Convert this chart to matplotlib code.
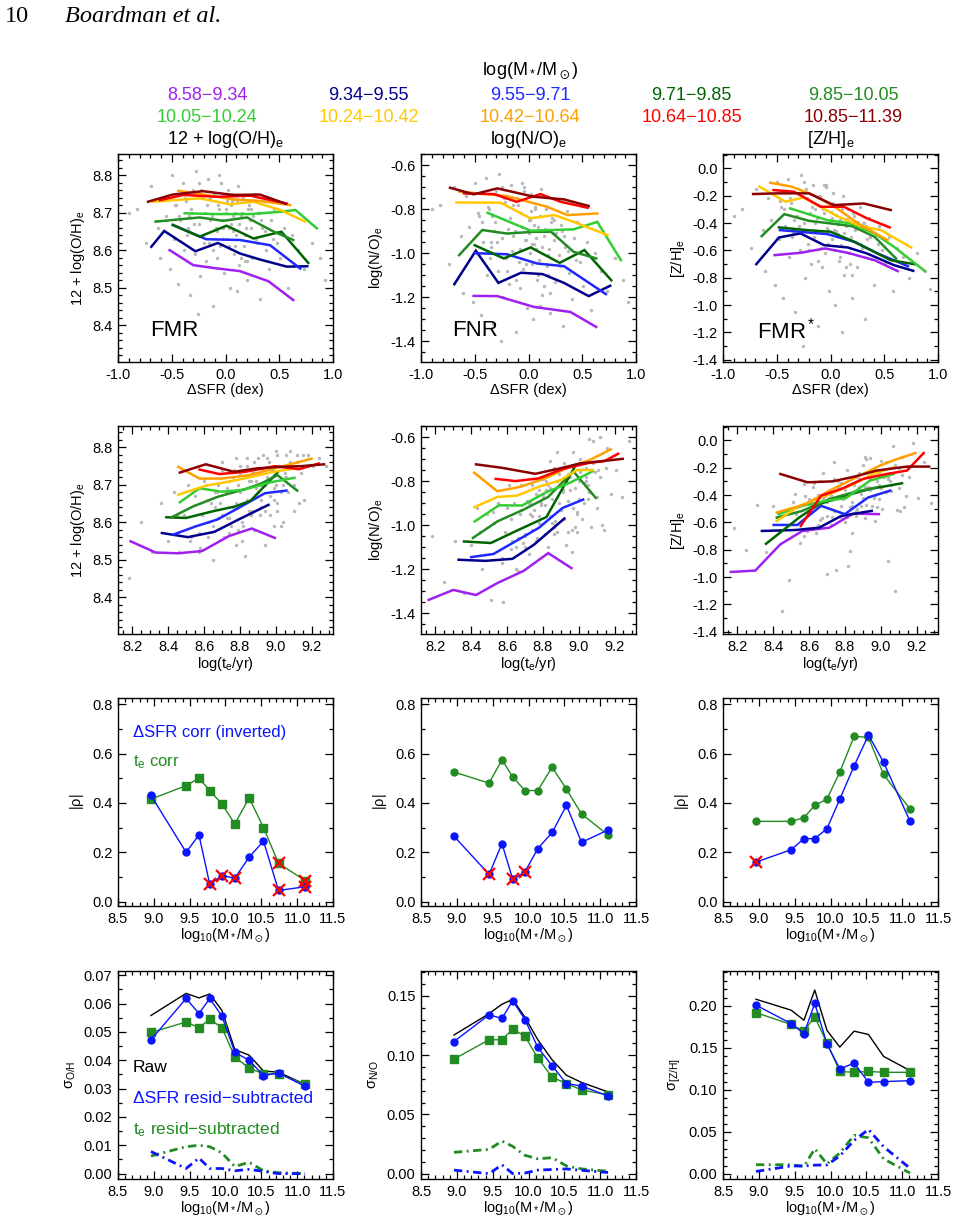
import matplotlib
matplotlib.use("Agg")
import matplotlib.pyplot as plt
from matplotlib.ticker import MultipleLocator, FormatStrFormatter

plt.rcParams["font.family"] = ["Liberation Sans", "DejaVu Sans"]
plt.rcParams["mathtext.fontset"] = "custom"
plt.rcParams["mathtext.rm"] = "Liberation Sans"
plt.rcParams["mathtext.it"] = "Liberation Sans:italic"
plt.rcParams["mathtext.default"] = "regular"

# ---- mass bins -------------------------------------------------------------
BIN_LABELS = ["8.58−9.34", "9.34−9.55", "9.55−9.71", "9.71−9.85", "9.85−10.05",
              "10.05−10.24", "10.24−10.42", "10.42−10.64", "10.64−10.85", "10.85−11.39"]
BIN_COLORS = ["#A020F0", "#00008B", "#1E28FF", "#006400", "#228B22",
              "#32CD32", "#FFC800", "#FFA000", "#FF0000", "#8B0000"]

# ---- grey galaxy cloud (estimated) -----------------------------------------
CLOUD_DSFR = [-0.82, -0.74, -0.69, -0.63, -0.61, -0.58, -0.55, -0.52, -0.50, -0.48,
              -0.46, -0.44, -0.42, -0.40, -0.39, -0.37, -0.35, -0.33, -0.31, -0.30,
              -0.28, -0.27, -0.25, -0.24, -0.22, -0.21, -0.19, -0.18, -0.16, -0.15,
              -0.13, -0.12, -0.11, -0.09, -0.08, -0.07, -0.05, -0.04, -0.03, -0.01,
              0.00, 0.01, 0.02, 0.04, 0.05, 0.06, 0.08, 0.09, 0.10, 0.12,
              0.13, 0.14, 0.16, 0.17, 0.19, 0.20, 0.22, 0.23, 0.25, 0.27,
              0.28, 0.30, 0.32, 0.34, 0.36, 0.38, 0.40, 0.42, 0.45, 0.48,
              0.51, 0.54, 0.58, 0.62, 0.67, 0.73, 0.80, 0.88, -0.90, 0.93,
              -0.26, -0.06, 0.07, 0.18, -0.34, 0.03, -0.14, 0.11, -0.02, 0.24,
              -0.43, -0.38, -0.36, -0.32, -0.29, -0.23, -0.20, -0.17, -0.14, -0.10,
              -0.08, -0.06, -0.04, -0.02, 0.00, 0.02, 0.03, 0.05, 0.07, 0.09,
              0.11, 0.13, 0.15, 0.18, 0.21, 0.24, 0.26, 0.29, 0.33, 0.37,
              -0.47, -0.25, -0.12, 0.01, 0.14, 0.31, 0.44, -0.35, 0.06, 0.20]
CLOUD_OH_1 = [8.71, 8.62, 8.77, 8.66, 8.58, 8.74, 8.69, 8.55, 8.80, 8.63,
              8.72, 8.51, 8.68, 8.78, 8.60, 8.73, 8.65, 8.48, 8.70, 8.76,
              8.59, 8.81, 8.67, 8.53, 8.74, 8.64, 8.70, 8.57, 8.79, 8.62,
              8.69, 8.45, 8.75, 8.66, 8.58, 8.72, 8.61, 8.78, 8.68, 8.54,
              8.71, 8.63, 8.76, 8.50, 8.67, 8.73, 8.59, 8.70, 8.64, 8.77,
              8.56, 8.69, 8.74, 8.61, 8.66, 8.52, 8.72, 8.68, 8.58, 8.75,
              8.63, 8.70, 8.47, 8.66, 8.73, 8.60, 8.55, 8.68, 8.71, 8.62,
              8.58, 8.66, 8.50, 8.64, 8.60, 8.55, 8.62, 8.58, 8.70, 8.52,
              8.43, 8.80, 8.65, 8.57, 8.69, 8.61, 8.74, 8.49, 8.66, 8.71,
              8.69, 8.74, 8.64, 8.71, 8.67, 8.76, 8.62, 8.72, 8.68, 8.75,
              8.65, 8.71, 8.78, 8.63, 8.70, 8.74, 8.66, 8.72, 8.69, 8.61,
              8.73, 8.67, 8.70, 8.64, 8.71, 8.66, 8.69, 8.62, 8.68, 8.65,
              8.72, 8.78, 8.60, 8.73, 8.58, 8.70, 8.63, 8.66, 8.75, 8.57]
CLOUD_NO_1 = [-0.78, -1.05, -0.70, -0.92, -1.18, -0.74, -0.88, -1.22, -0.68, -1.00,
              -0.83, -1.28, -0.95, -0.66, -1.10, -0.80, -0.97, -1.32, -0.86, -0.72,
              -1.08, -0.64, -0.93, -1.20, -0.77, -1.02, -0.89, -1.14, -0.69, -0.99,
              -0.90, -1.36, -0.75, -1.04, -1.16, -0.82, -1.07, -0.70, -0.94, -1.25,
              -0.85, -1.00, -0.73, -1.30, -0.96, -0.79, -1.12, -0.88, -1.03, -0.71,
              -1.19, -0.92, -0.80, -1.06, -0.98, -1.27, -0.84, -0.91, -1.13, -0.76,
              -1.01, -0.87, -1.33, -0.97, -0.81, -1.09, -1.21, -0.93, -0.86, -1.04,
              -1.15, -0.95, -1.26, -1.00, -1.08, -1.17, -1.02, -1.12, -0.80, -1.22,
              -1.40, -0.68, -0.98, -1.10, -0.83, -1.05, -0.78, -1.24, -0.94, -0.85,
              -0.86, -0.79, -1.02, -0.90, -0.95, -0.75, -1.08, -0.84, -0.92, -0.78,
              -0.98, -0.88, -0.72, -1.05, -0.91, -0.81, -0.96, -0.87, -0.93, -1.10,
              -0.83, -0.97, -0.89, -1.01, -0.86, -0.94, -0.91, -1.06, -0.92, -0.99,
              -0.82, -0.70, -1.12, -0.85, -1.15, -0.90, -1.03, -0.95, -0.80, -1.18]
CLOUD_ZH_1 = [-0.30, -0.58, -0.15, -0.45, -0.75, -0.22, -0.38, -0.85, -0.10, -0.52,
              -0.28, -0.95, -0.42, -0.08, -0.65, -0.25, -0.48, -1.05, -0.35, -0.18,
              -0.60, -0.05, -0.40, -0.80, -0.22, -0.55, -0.33, -0.70, -0.12, -0.50,
              -0.36, -1.15, -0.20, -0.58, -0.72, -0.30, -0.62, -0.14, -0.44, -0.90,
              -0.32, -0.52, -0.18, -1.00, -0.46, -0.27, -0.68, -0.38, -0.56, -0.20,
              -0.78, -0.42, -0.30, -0.62, -0.50, -0.95, -0.35, -0.45, -0.72, -0.28,
              -0.55, -0.40, -1.10, -0.52, -0.36, -0.66, -0.85, -0.48, -0.42, -0.60,
              -0.70, -0.50, -0.90, -0.58, -0.65, -0.80, -0.62, -0.75, -0.35, -0.88,
              -1.30, -0.12, -0.48, -0.70, -0.38, -0.60, -0.30, -1.20, -0.45, -0.40,
              -0.30, -0.22, -0.50, -0.35, -0.42, -0.15, -0.60, -0.28, -0.40, -0.20,
              -0.46, -0.33, -0.12, -0.55, -0.38, -0.25, -0.45, -0.34, -0.41, -0.65,
              -0.30, -0.47, -0.37, -0.52, -0.33, -0.44, -0.39, -0.58, -0.42, -0.50,
              -0.24, -0.10, -0.68, -0.36, -0.72, -0.40, -0.55, -0.46, -0.27, -0.78]

CLOUD_TE = [8.18, 8.25, 8.31, 8.36, 8.40, 8.43, 8.46, 8.49, 8.51, 8.53,
            8.55, 8.57, 8.59, 8.61, 8.62, 8.64, 8.65, 8.67, 8.68, 8.70,
            8.71, 8.72, 8.74, 8.75, 8.76, 8.78, 8.79, 8.80, 8.81, 8.83,
            8.84, 8.85, 8.86, 8.88, 8.89, 8.90, 8.91, 8.93, 8.94, 8.95,
            8.96, 8.97, 8.99, 9.00, 9.01, 9.02, 9.04, 9.05, 9.06, 9.07,
            9.09, 9.10, 9.12, 9.14, 9.16, 9.18, 9.21, 9.24, 9.28, 8.58,
            8.66, 8.73, 8.77, 8.82, 8.87, 8.92, 8.98, 9.03, 9.08, 8.69,
            8.74, 8.80, 8.86, 8.91, 8.96, 9.01, 9.11, 8.63, 8.84, 8.99,
            8.45, 8.52, 8.70, 8.78, 8.88, 8.94, 9.04, 9.13, 8.60, 8.83,
            8.62, 8.65, 8.68, 8.70, 8.72, 8.74, 8.76, 8.78, 8.79, 8.81,
            8.82, 8.84, 8.85, 8.87, 8.88, 8.90, 8.91, 8.92, 8.94, 8.95,
            8.97, 8.98, 9.00, 9.01, 9.03, 9.04, 9.06, 9.08, 9.10, 9.12,
            8.57, 8.66, 8.73, 8.80, 8.86, 8.93, 8.99, 9.05, 9.15, 8.89]
CLOUD_OH_2 = [8.45, 8.60, 8.52, 8.65, 8.55, 8.68, 8.52, 8.62, 8.70, 8.56,
              8.67, 8.52, 8.62, 8.70, 8.56, 8.65, 8.50, 8.68, 8.61, 8.74,
              8.56, 8.68, 8.71, 8.59, 8.64, 8.77, 8.58, 8.68, 8.55, 8.72,
              8.75, 8.63, 8.71, 8.58, 8.69, 8.77, 8.62, 8.74, 8.54, 8.72,
              8.76, 8.62, 8.69, 8.79, 8.65, 8.75, 8.60, 8.72, 8.78, 8.68,
              8.75, 8.63, 8.78, 8.73, 8.66, 8.78, 8.75, 8.77, 8.75, 8.53,
              8.68, 8.61, 8.74, 8.59, 8.73, 8.66, 8.72, 8.59, 8.76, 8.65,
              8.57, 8.75, 8.62, 8.70, 8.76, 8.63, 8.75, 8.60, 8.77, 8.59,
              8.62, 8.55, 8.76, 8.54, 8.73, 8.63, 8.70, 8.65, 8.71, 8.51,
              8.66, 8.59, 8.70, 8.62, 8.68, 8.61, 8.72, 8.65, 8.70, 8.60,
              8.74, 8.66, 8.71, 8.63, 8.76, 8.68, 8.73, 8.64, 8.70, 8.77,
              8.67, 8.74, 8.70, 8.78, 8.68, 8.75, 8.72, 8.79, 8.70, 8.76,
              8.57, 8.64, 8.69, 8.73, 8.62, 8.78, 8.66, 8.73, 8.78, 8.71]
CLOUD_NO_2 = [-1.05, -1.26, -1.07, -1.31, -1.09, -0.92, -1.20, -0.95, -1.34, -0.99,
              -0.90, -1.17, -1.03, -0.82, -1.11, -0.90, -1.20, -0.95, -0.82, -1.04,
              -0.89, -1.13, -0.82, -0.93, -1.07, -0.84, -0.90, -0.87, -0.91, -1.10,
              -0.83, -0.99, -0.74, -1.03, -0.77, -0.93, -0.82, -1.09, -0.77, -0.84,
              -1.02, -0.67, -0.95, -0.80, -0.70, -0.97, -0.74, -0.88, -0.61, -1.01,
              -0.76, -0.92, -0.60, -1.02, -0.65, -0.86, -0.75, -0.87, -0.62, -1.35,
              -1.21, -0.90, -1.06, -0.80, -0.98, -0.72, -1.01, -0.81, -0.62, -1.08,
              -0.96, -0.79, -1.04, -0.84, -1.12, -0.76, -0.75, -1.07, -0.71, -1.03,
              -1.03, -0.94, -1.10, -0.96, -0.67, -1.03, -0.78, -1.00, -0.92, -0.82,
              -0.97, -1.10, -0.93, -1.05, -0.90, -1.02, -0.86, -0.99, -0.91, -1.04,
              -0.84, -0.96, -0.88, -1.00, -0.80, -0.93, -0.85, -0.97, -0.89, -0.78,
              -0.92, -0.83, -0.88, -0.75, -0.90, -0.80, -0.85, -0.72, -0.87, -0.78,
              -1.15, -1.06, -0.95, -0.86, -1.01, -0.79, -0.94, -0.82, -0.74, -0.90]
CLOUD_ZH_2 = [-0.64, -0.80, -0.47, -0.82, -0.48, -0.66, -0.52, -1.02, -0.45, -0.54,
              -0.75, -0.32, -0.66, -0.47, -0.34, -0.68, -0.40, -0.57, -0.24, -0.98,
              -0.42, -0.62, -0.16, -0.95, -0.30, -0.56, -0.43, -0.60, -0.22, -0.81,
              -0.68, -0.33, -0.55, -0.24, -0.48, -0.18, -0.57, -0.34, -0.13, -0.48,
              -0.22, -0.59, -0.33, -0.15, -0.50, -0.27, -0.88, -0.20, -0.37, -0.04,
              -0.51, -0.20, -0.12, -0.41, -0.27, -0.02, -0.42, -0.16, -0.46, -0.41,
              -0.30, -0.56, -0.34, -0.92, -0.37, -0.14, -0.49, -0.16, -1.10, -0.41,
              -0.28, -0.55, -0.27, -0.12, -0.42, -0.22, -0.52, -0.31, -0.48, -0.23,
              -1.25, -0.39, -0.45, -0.31, -0.34, -0.28, -0.28, -0.49, -0.43, -0.49,
              -0.48, -0.62, -0.42, -0.55, -0.40, -0.52, -0.35, -0.48, -0.40, -0.56,
              -0.33, -0.45, -0.37, -0.50, -0.28, -0.42, -0.34, -0.47, -0.36, -0.24,
              -0.40, -0.30, -0.35, -0.22, -0.38, -0.27, -0.33, -0.18, -0.35, -0.25,
              -0.70, -0.58, -0.44, -0.36, -0.52, -0.26, -0.43, -0.30, -0.20, -0.39]

# ---- running medians per mass bin, row 1 (vs ΔSFR) -------------------------
FMR_X = [[-0.52, -0.30, -0.10, 0.135, 0.40, 0.63],
         [-0.69, -0.57, -0.28, -0.07, 0.135, 0.32, 0.57, 0.76],
         [-0.49, -0.18, 0.135, 0.415, 0.695],
         [-0.49, -0.24, 0.01, 0.26, 0.52, 0.77],
         [-0.65, -0.24, -0.02, 0.20, 0.45, 0.63],
         [-0.38, -0.08, 0.23, 0.51, 0.65, 0.85],
         [-0.67, -0.24, 0.04, 0.26, 0.51, 0.74],
         [-0.44, -0.18, 0.07, 0.32, 0.60],
         [-0.61, -0.39, -0.08, 0.23, 0.57],
         [-0.72, -0.49, -0.21, 0.07, 0.32, 0.555]]
FMR_Y = [[8.600, 8.560, 8.552, 8.544, 8.517, 8.467],
         [8.609, 8.651, 8.597, 8.619, 8.591, 8.575, 8.556, 8.557],
         [8.667, 8.629, 8.627, 8.613, 8.551],
         [8.667, 8.636, 8.665, 8.631, 8.649, 8.566],
         [8.676, 8.687, 8.678, 8.687, 8.649, 8.627],
         [8.698, 8.696, 8.696, 8.702, 8.707, 8.658],
         [8.729, 8.738, 8.722, 8.729, 8.707, 8.676],
         [8.758, 8.747, 8.735, 8.731, 8.720],
         [8.733, 8.747, 8.742, 8.745, 8.724],
         [8.729, 8.748, 8.757, 8.747, 8.748, 8.724]]

FNR_X = [[-0.51, -0.29, 0.05, 0.39, 0.63],
         [-0.69, -0.49, -0.28, -0.07, 0.13, 0.33, 0.56, 0.76],
         [-0.50, -0.20, 0.08, 0.33, 0.72],
         [-0.50, -0.23, 0.02, 0.29, 0.52, 0.77],
         [-0.645, -0.43, -0.20, 0.05, 0.21, 0.42, 0.63],
         [-0.38, 0.02, 0.42, 0.64, 0.86],
         [-0.67, -0.26, 0.02, 0.24, 0.42, 0.735],
         [-0.64, -0.20, 0.17, 0.36, 0.64],
         [-0.60, -0.32, -0.11, 0.11, 0.30, 0.55],
         [-0.73, -0.51, -0.29, 0.05, 0.33, 0.56]]
FNR_Y = [[-1.194, -1.195, -1.244, -1.267, -1.335],
         [-1.141, -0.989, -1.135, -1.089, -1.095, -1.135, -1.195, -1.148],
         [-1.000, -1.005, -1.047, -1.059, -1.186],
         [-0.964, -1.024, -0.974, -1.044, -0.986, -1.123],
         [-1.009, -0.895, -0.911, -0.903, -0.903, -0.994, -1.024],
         [-0.817, -0.898, -0.892, -0.858, -1.032],
         [-0.770, -0.771, -0.842, -0.827, -0.858, -0.918],
         [-0.721, -0.741, -0.789, -0.827, -0.820],
         [-0.729, -0.732, -0.767, -0.732, -0.767, -0.794],
         [-0.703, -0.733, -0.706, -0.744, -0.756, -0.786]]

FMRZ_X = [[-0.52, -0.28, -0.05, 0.16, 0.41, 0.625],
          [-0.69, -0.48, -0.28, -0.06, 0.16, 0.34, 0.59, 0.77],
          [-0.47, -0.03, 0.22, 0.44, 0.72],
          [-0.48, -0.22, 0.00, 0.22, 0.56, 0.78],
          [-0.64, -0.43, -0.20, 0.00, 0.20, 0.41, 0.61],
          [-0.375, -0.03, 0.19, 0.41, 0.59, 0.875],
          [-0.66, -0.42, -0.25, 0.06, 0.28, 0.47, 0.75],
          [-0.56, -0.36, -0.16, 0.06, 0.28, 0.53],
          [-0.53, -0.34, -0.09, 0.125, 0.34, 0.55],
          [-0.72, -0.50, -0.20, 0.03, 0.31, 0.56]]
FMRZ_Y = [[-0.635, -0.618, -0.586, -0.618, -0.672, -0.752],
          [-0.701, -0.506, -0.476, -0.562, -0.579, -0.623, -0.708, -0.750],
          [-0.452, -0.481, -0.537, -0.623, -0.716],
          [-0.432, -0.452, -0.464, -0.537, -0.672, -0.701],
          [-0.496, -0.335, -0.384, -0.403, -0.423, -0.501, -0.660],
          [-0.293, -0.379, -0.403, -0.476, -0.574, -0.750],
          [-0.134, -0.244, -0.213, -0.349, -0.423, -0.452, -0.579],
          [-0.105, -0.134, -0.195, -0.293, -0.415, -0.525],
          [-0.159, -0.171, -0.281, -0.281, -0.366, -0.432],
          [-0.188, -0.183, -0.183, -0.269, -0.257, -0.305]]

# ---- running medians per mass bin, row 2 (vs log t_e) ----------------------
TOH_X = [[8.19, 8.33, 8.456, 8.59, 8.74, 8.867, 8.995],
         [8.365, 8.51, 8.657, 8.81, 8.96],
         [8.43, 8.556, 8.675, 8.79, 8.94, 9.06],
         [8.39, 8.50, 8.65, 8.776, 8.86, 9.01],
         [8.42, 8.54, 8.68, 8.83, 8.92, 9.01, 9.12],
         [8.465, 8.575, 8.70, 8.82, 8.97, 9.105],
         [8.456, 8.61, 8.74, 8.85, 8.99, 9.105],
         [8.456, 8.575, 8.70, 8.85, 8.995, 9.20],
         [8.575, 8.685, 8.83, 8.995, 9.13, 9.24],
         [8.465, 8.61, 8.767, 8.895, 9.01, 9.14, 9.27]]
TOH_Y = [[8.549, 8.519, 8.517, 8.523, 8.563, 8.583, 8.558],
         [8.571, 8.560, 8.574, 8.611, 8.646],
         [8.567, 8.589, 8.607, 8.637, 8.677, 8.684],
         [8.613, 8.611, 8.629, 8.642, 8.657, 8.732],
         [8.613, 8.642, 8.668, 8.688, 8.703, 8.725, 8.684],
         [8.653, 8.690, 8.681, 8.686, 8.706, 8.718],
         [8.673, 8.697, 8.708, 8.719, 8.734, 8.743],
         [8.747, 8.716, 8.716, 8.725, 8.743, 8.769],
         [8.740, 8.728, 8.734, 8.749, 8.741, 8.756],
         [8.732, 8.754, 8.734, 8.743, 8.747, 8.749, 8.754]]

TNO_X = [[8.163, 8.30, 8.427, 8.546, 8.694, 8.83, 8.96],
         [8.33, 8.48, 8.63, 8.75, 8.92],
         [8.40, 8.524, 8.64, 8.776, 8.91, 9.025],
         [8.36, 8.51, 8.647, 8.82, 8.975],
         [8.41, 8.546, 8.694, 8.83, 8.97, 9.095],
         [8.42, 8.555, 8.684, 8.82, 8.95, 9.08],
         [8.417, 8.546, 8.657, 8.786, 8.896, 8.99, 9.08],
         [8.417, 8.546, 8.675, 8.82, 8.95, 9.06, 9.18],
         [8.537, 8.648, 8.776, 8.915, 9.06, 9.145, 9.22],
         [8.427, 8.574, 8.758, 8.887, 9.007, 9.136, 9.246]]
TNO_Y = [[-1.339, -1.294, -1.317, -1.263, -1.207, -1.127, -1.195],
         [-1.157, -1.162, -1.153, -1.089, -0.970],
         [-1.145, -1.131, -1.077, -1.013, -0.922, -0.884],
         [-1.074, -1.081, -1.028, -0.963, -0.740],
         [-1.058, -0.983, -0.929, -0.872, -0.755, -0.876],
         [-0.983, -0.910, -0.911, -0.850, -0.808, -0.755],
         [-0.919, -0.872, -0.866, -0.823, -0.797, -0.750, -0.750],
         [-0.762, -0.846, -0.826, -0.785, -0.735, -0.705, -0.656],
         [-0.790, -0.800, -0.788, -0.744, -0.717, -0.709, -0.676],
         [-0.724, -0.740, -0.767, -0.744, -0.720, -0.709, -0.699]]

TZH_X = [[8.164, 8.30, 8.44, 8.563, 8.714, 8.846, 8.99],
         [8.337, 8.526, 8.657, 8.78, 8.95],
         [8.403, 8.535, 8.667, 8.80, 8.93, 9.053],
         [8.36, 8.545, 8.657, 8.80, 8.94, 9.119],
         [8.42, 8.563, 8.714, 8.846, 8.978],
         [8.43, 8.563, 8.695, 8.808, 8.94, 9.072],
         [8.42, 8.545, 8.695, 8.827, 8.96, 9.072],
         [8.42, 8.582, 8.714, 8.865, 8.997, 9.08, 9.194],
         [8.554, 8.667, 8.78, 8.902, 9.034, 9.147, 9.24],
         [8.44, 8.592, 8.733, 8.855, 8.978, 9.147, 9.27]]
TZH_Y = [[-0.963, -0.953, -0.761, -0.663, -0.639, -0.536, -0.540],
         [-0.663, -0.656, -0.639, -0.553, -0.516],
         [-0.619, -0.619, -0.479, -0.540, -0.418, -0.368],
         [-0.757, -0.565, -0.467, -0.405, -0.356, -0.314],
         [-0.565, -0.516, -0.430, -0.381, -0.344],
         [-0.540, -0.479, -0.442, -0.422, -0.295, -0.246],
         [-0.590, -0.479, -0.405, -0.332, -0.246, -0.197],
         [-0.528, -0.467, -0.368, -0.270, -0.184, -0.142, -0.093],
         [-0.626, -0.405, -0.356, -0.282, -0.246, -0.221, -0.093],
         [-0.246, -0.307, -0.300, -0.265, -0.221, -0.192, -0.192]]

# ---- correlation strengths vs stellar mass (row 3) -------------------------
MASS_X = [8.96, 9.45, 9.63, 9.78, 9.95, 10.13, 10.33, 10.53, 10.74, 11.11]
OH_RHO_SFR = [0.43, 0.20, 0.27, 0.07, 0.105, 0.095, 0.18, 0.245, 0.045, 0.06]
OH_RHO_TE = [0.415, 0.47, 0.50, 0.45, 0.395, 0.315, 0.42, 0.30, 0.155, 0.085]
OH_BAD_SFR = [3, 4, 5, 8, 9]
OH_BAD_TE = [8, 9]
NO_RHO_SFR = [0.265, 0.11, 0.235, 0.09, 0.12, 0.215, 0.28, 0.39, 0.24, 0.29]
NO_RHO_TE = [0.525, 0.48, 0.575, 0.505, 0.45, 0.45, 0.545, 0.455, 0.355, 0.27]
NO_BAD_SFR = [1, 3, 4]
NO_BAD_TE = []
ZH_RHO_SFR = [0.16, 0.21, 0.255, 0.255, 0.295, 0.415, 0.55, 0.675, 0.565, 0.325]
ZH_RHO_TE = [0.325, 0.325, 0.34, 0.39, 0.415, 0.525, 0.67, 0.665, 0.515, 0.375]
ZH_BAD_SFR = [0]
ZH_BAD_TE = []

# ---- scatter vs stellar mass (row 4) ---------------------------------------
OH_RAW = [0.0558, 0.0636, 0.0620, 0.0634, 0.0576, 0.0438, 0.0418, 0.0362, 0.0358, 0.0315]
OH_SFR_SUB = [0.0472, 0.0618, 0.0565, 0.0618, 0.0556, 0.0428, 0.0400, 0.0346, 0.0355, 0.0308]
OH_TE_SUB = [0.0498, 0.0535, 0.0515, 0.0545, 0.0515, 0.0412, 0.0372, 0.0352, 0.0352, 0.0315]
OH_SFR_DIFF = [0.0078, 0.0018, 0.0055, 0.0018, 0.0018, 0.0010, 0.0015, 0.0008, 0.0, 0.0]
OH_TE_DIFF = [0.0062, 0.0095, 0.0100, 0.0095, 0.0073, 0.0025, 0.0040, 0.0010, 0.0003, 0.0]
NO_RAW = [0.117, 0.135, 0.143, 0.147, 0.132, 0.113, 0.096, 0.083, 0.077, 0.069]
NO_SFR_SUB = [0.1115, 0.134, 0.131, 0.146, 0.130, 0.1065, 0.091, 0.076, 0.074, 0.0655]
NO_TE_SUB = [0.0967, 0.113, 0.113, 0.122, 0.116, 0.0976, 0.0814, 0.0760, 0.0707, 0.0665]
NO_SFR_DIFF = [0.003, 0.0, 0.0075, 0.0, 0.0005, 0.003, 0.0035, 0.004, 0.0028, 0.001]
NO_TE_DIFF = [0.018, 0.0205, 0.0275, 0.023, 0.0155, 0.0125, 0.0135, 0.0065, 0.004, 0.002]
ZH_RAW = [0.208, 0.195, 0.183, 0.219, 0.171, 0.151, 0.170, 0.166, 0.140, 0.123]
ZH_SFR_SUB = [0.201, 0.179, 0.167, 0.203, 0.155, 0.125, 0.132, 0.109, 0.110, 0.111]
ZH_TE_SUB = [0.192, 0.178, 0.170, 0.187, 0.156, 0.122, 0.121, 0.122, 0.121, 0.121]
ZH_SFR_DIFF = [0.003, 0.0095, 0.0095, 0.0105, 0.0107, 0.0214, 0.040, 0.053, 0.0325, 0.0067]
ZH_TE_DIFF = [0.011, 0.011, 0.009, 0.030, 0.012, 0.025, 0.046, 0.043, 0.018, 0.001]

BLUE = "#0A14FF"
GREEN = "#228B22"
GREY = "#B8B8B8"

W, H = 957, 1225
COL_LEFT = [118, 421, 723]
AX_W = 215
ROW_TOP = [154, 426, 698, 971]
AX_H = 208


def make_ax(fig, row, col):
    l = COL_LEFT[col] / W
    b = 1 - (ROW_TOP[row] + AX_H) / H
    ax = fig.add_axes([l, b, AX_W / W, AX_H / H])
    ax.tick_params(which="both", direction="in", top=True, right=True,
                   labelsize=10.5, width=0.9, pad=4)
    ax.tick_params(which="major", length=6)
    ax.tick_params(which="minor", length=3)
    for s in ax.spines.values():
        s.set_linewidth(1.0)
    return ax


def set_axis(ax, xlim, xmaj, xmin, xfmt, ylim, ymaj, ymin, yfmt, xlabel, ylabel):
    ax.set_xlim(*xlim)
    ax.set_ylim(*ylim)
    ax.xaxis.set_major_locator(MultipleLocator(xmaj))
    ax.xaxis.set_minor_locator(MultipleLocator(xmin))
    ax.yaxis.set_major_locator(MultipleLocator(ymaj))
    ax.yaxis.set_minor_locator(MultipleLocator(ymin))
    ax.xaxis.set_major_formatter(FormatStrFormatter(xfmt))
    ax.yaxis.set_major_formatter(FormatStrFormatter(yfmt))
    ax.set_xlabel(xlabel, fontsize=10.5, labelpad=1)
    ax.set_ylabel(ylabel, fontsize=10.5, labelpad=4)


def draw_medians(ax, cx, cy, xs, ys):
    ax.scatter(cx, cy, s=6, color=GREY, linewidths=0, zorder=1)
    for i in range(len(xs)):
        ax.plot(xs[i], ys[i], color=BIN_COLORS[i], lw=1.8, zorder=2,
                solid_joinstyle="miter")


def draw_rho(ax, sfr, te, bad_sfr, bad_te, te_marker):
    ax.plot(MASS_X, te, color=GREEN, lw=1.0, marker=te_marker,
            ms=5.5 if te_marker == "s" else 5, zorder=2)
    ax.plot(MASS_X, sfr, color=BLUE, lw=1.0, marker="o", ms=5, zorder=3)
    ax.plot([MASS_X[i] for i in bad_sfr], [sfr[i] for i in bad_sfr], ls="none",
            marker="x", ms=9, mew=1.6, color="red", zorder=4)
    ax.plot([MASS_X[i] for i in bad_te], [te[i] for i in bad_te], ls="none",
            marker="x", ms=9, mew=1.6, color="red", zorder=4)


def draw_sigma(ax, raw, sfr_sub, te_sub, sfr_diff, te_diff):
    ax.plot(MASS_X, raw, color="black", lw=1.0, zorder=2)
    ax.plot(MASS_X, te_sub, color=GREEN, lw=1.0, marker="s", ms=5.5, zorder=3)
    ax.plot(MASS_X, sfr_sub, color=BLUE, lw=1.0, marker="o", ms=5, zorder=4)
    dd = (0, (3, 1.6, 0.7, 1.6))
    ax.plot(MASS_X, te_diff, color=GREEN, lw=2.0, ls=dd, zorder=2)
    ax.plot(MASS_X, sfr_diff, color=BLUE, lw=2.0, ls=dd, zorder=3)


fig = plt.figure(figsize=(W / 100, H / 100), dpi=100)

# page header
fig.text(5 / W, 1 - 16 / H, "10", fontsize=17.5, family="Liberation Serif",
         va="center", ha="left")
fig.text(65 / W, 1 - 16 / H, "Boardman et al.", fontsize=17.5, family="Liberation Serif",
         style="italic", va="center", ha="left")

# mass-bin legend
fig.text(530 / W, 1 - 71 / H, r"log(M$_*$/M$_\odot$)", fontsize=13, ha="center", va="center")
leg_x = [207, 368.5, 530, 691.5, 853]
for i, lab in enumerate(BIN_LABELS):
    yy = 95 if i < 5 else 117
    fig.text(leg_x[i % 5] / W, 1 - yy / H, lab, fontsize=13, color=BIN_COLORS[i],
             ha="center", va="center")

col_titles = ["12 + log(O/H)$_e$", "log(N/O)$_e$", "[Z/H]$_e$"]
for c, t in enumerate(col_titles):
    fig.text((COL_LEFT[c] + AX_W / 2) / W, 1 - 140 / H, t, fontsize=13,
             ha="center", va="center")

YL_OH = (8.302, 8.856)
YL_NO = (-1.494, -0.55)
YL_ZH = (-1.417, 0.105)
XL_SFR = (-1.0, 1.0)
XL_TE = (8.12, 9.32)
XL_M = (8.5, 11.5)
XLAB_SFR = "ΔSFR (dex)"
XLAB_TE = "log(t$_e$/yr)"
XLAB_M = r"log$_{10}$(M$_*$/M$_\odot$)"

# row 1
ax = make_ax(fig, 0, 0)
draw_medians(ax, CLOUD_DSFR, CLOUD_OH_1, FMR_X, FMR_Y)
set_axis(ax, XL_SFR, 0.5, 0.1, "%.1f", YL_OH, 0.1, 0.02, "%.1f", XLAB_SFR, "12 + log(O/H)$_e$")
ax.text(0.15, 0.15, "FMR", transform=ax.transAxes, fontsize=16, va="center")

ax = make_ax(fig, 0, 1)
draw_medians(ax, CLOUD_DSFR, CLOUD_NO_1, FNR_X, FNR_Y)
set_axis(ax, XL_SFR, 0.5, 0.1, "%.1f", YL_NO, 0.2, 0.05, "%.1f", XLAB_SFR, "log(N/O)$_e$")
ax.text(0.145, 0.15, "FNR", transform=ax.transAxes, fontsize=16, va="center")

ax = make_ax(fig, 0, 2)
draw_medians(ax, CLOUD_DSFR, CLOUD_ZH_1, FMRZ_X, FMRZ_Y)
set_axis(ax, XL_SFR, 0.5, 0.1, "%.1f", YL_ZH, 0.2, 0.1, "%.1f", XLAB_SFR, "[Z/H]$_e$")
ax.text(0.16, 0.15, "FMR$^*$", transform=ax.transAxes, fontsize=16, va="center")

# row 2
ax = make_ax(fig, 1, 0)
draw_medians(ax, CLOUD_TE, CLOUD_OH_2, TOH_X, TOH_Y)
set_axis(ax, XL_TE, 0.2, 0.05, "%.1f", YL_OH, 0.1, 0.02, "%.1f", XLAB_TE, "12 + log(O/H)$_e$")

ax = make_ax(fig, 1, 1)
draw_medians(ax, CLOUD_TE, CLOUD_NO_2, TNO_X, TNO_Y)
set_axis(ax, XL_TE, 0.2, 0.05, "%.1f", YL_NO, 0.2, 0.05, "%.1f", XLAB_TE, "log(N/O)$_e$")

ax = make_ax(fig, 1, 2)
draw_medians(ax, CLOUD_TE, CLOUD_ZH_2, TZH_X, TZH_Y)
set_axis(ax, XL_TE, 0.2, 0.05, "%.1f", YL_ZH, 0.2, 0.1, "%.1f", XLAB_TE, "[Z/H]$_e$")

# row 3
YL_RHO = (-0.018, 0.825)
ax = make_ax(fig, 2, 0)
draw_rho(ax, OH_RHO_SFR, OH_RHO_TE, OH_BAD_SFR, OH_BAD_TE, "s")
set_axis(ax, XL_M, 0.5, 0.1, "%.1f", YL_RHO, 0.2, 0.1, "%.1f", XLAB_M, r"|$\rho$|")
ax.text(0.07, 0.835, "ΔSFR corr (inverted)", transform=ax.transAxes, fontsize=12,
        color=BLUE, va="center")
ax.text(0.07, 0.69, "t$_e$ corr", transform=ax.transAxes, fontsize=12,
        color=GREEN, va="center")

ax = make_ax(fig, 2, 1)
draw_rho(ax, NO_RHO_SFR, NO_RHO_TE, NO_BAD_SFR, NO_BAD_TE, "o")
set_axis(ax, XL_M, 0.5, 0.1, "%.1f", YL_RHO, 0.2, 0.1, "%.1f", XLAB_M, r"|$\rho$|")

ax = make_ax(fig, 2, 2)
draw_rho(ax, ZH_RHO_SFR, ZH_RHO_TE, ZH_BAD_SFR, ZH_BAD_TE, "o")
set_axis(ax, XL_M, 0.5, 0.1, "%.1f", YL_RHO, 0.2, 0.1, "%.1f", XLAB_M, r"|$\rho$|")

# row 4
ax = make_ax(fig, 3, 0)
draw_sigma(ax, OH_RAW, OH_SFR_SUB, OH_TE_SUB, OH_SFR_DIFF, OH_TE_DIFF)
set_axis(ax, XL_M, 0.5, 0.1, "%.1f", (-0.0019, 0.0715), 0.01, 0.005, "%.2f", XLAB_M,
         r"$\sigma_{O/H}$")
ax.text(0.07, 0.534, "Raw", transform=ax.transAxes, fontsize=12.5, color="black", va="center")
ax.text(0.07, 0.385, "ΔSFR resid−subtracted", transform=ax.transAxes, fontsize=12.5,
        color=BLUE, va="center")
ax.text(0.07, 0.236, "t$_e$ resid−subtracted", transform=ax.transAxes, fontsize=12.5,
        color=GREEN, va="center")

ax = make_ax(fig, 3, 1)
draw_sigma(ax, NO_RAW, NO_SFR_SUB, NO_TE_SUB, NO_SFR_DIFF, NO_TE_DIFF)
set_axis(ax, XL_M, 0.5, 0.1, "%.1f", (-0.0045, 0.171), 0.05, 0.01, "%.2f", XLAB_M,
         r"$\sigma_{N/O}$")

ax = make_ax(fig, 3, 2)
draw_sigma(ax, ZH_RAW, ZH_SFR_SUB, ZH_TE_SUB, ZH_SFR_DIFF, ZH_TE_DIFF)
set_axis(ax, XL_M, 0.5, 0.1, "%.1f", (-0.006, 0.2416), 0.05, 0.01, "%.2f", XLAB_M,
         r"$\sigma_{[Z/H]}$")

fig.savefig("out.png", dpi=100)
